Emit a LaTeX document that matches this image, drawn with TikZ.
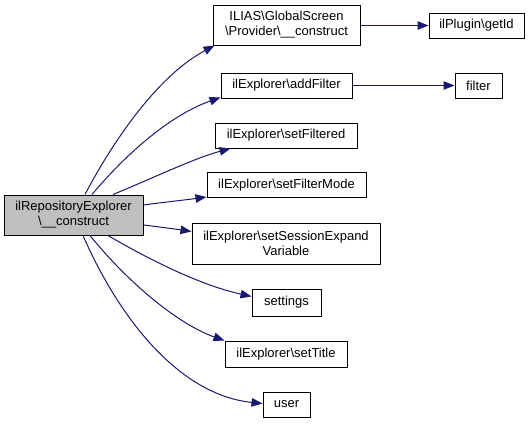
\documentclass[tikz,border=0pt]{standalone}
\usepackage{fontspec}
\setmainfont{Liberation Sans}
\usetikzlibrary{arrows.meta,calc}
\definecolor{edgeblue}{HTML}{191970}
\definecolor{mainfill}{HTML}{BFBFBF}
\tikzset{
  box/.style={draw=black, line width=1pt, fill=white, inner sep=0pt, align=center,
    font=\fontsize{13}{15}\selectfont, minimum height=25pt},
  twoline/.style={minimum height=40pt},
  edge/.style={draw=edgeblue, line width=1pt, -{Triangle[length=11pt,width=8.5pt]}},
}
\begin{document}
\begin{tikzpicture}[x=1pt,y=-1pt]
\useasboundingbox (0,0) rectangle (532,423);
\node[box,twoline,fill=mainfill,minimum width=139pt] (main) at (73.5,215) {ilRepositoryExplorer\\\textbackslash\_\_construct};
\node[box,twoline,minimum width=147pt] (ilias) at (286.5,25) {ILIAS\textbackslash GlobalScreen\\\textbackslash Provider\textbackslash\_\_construct};
\node[box,minimum width=95pt] (getid) at (476.5,25.5) {ilPlugin\textbackslash getId};
\node[box,minimum width=131pt] (addfilter) at (286.5,85.5) {ilExplorer\textbackslash addFilter};
\node[box,minimum width=47pt] (filter) at (478.5,85.5) {filter};
\node[box,minimum width=142pt] (setfiltered) at (286,135.5) {ilExplorer\textbackslash setFiltered};
\node[box,minimum width=159pt] (filtermode) at (286.5,185) {ilExplorer\textbackslash setFilterMode};
\node[box,twoline,minimum width=188pt,minimum height=41pt] (session) at (286,243.5) {ilExplorer\textbackslash setSessionExpand\\Variable};
\node[box,minimum width=69pt,minimum height=27pt] (settings) at (286.5,302.5) {settings};
\node[box,minimum width=122pt,minimum height=26pt] (settitle) at (286,354) {ilExplorer\textbackslash setTitle};
\node[box,minimum width=47pt] (user) at (286.5,404.5) {user};

\draw[edge] ($(main.north)+(11.5,0)$) .. controls (103,160) and (150,80) .. ($(ilias.south west)+(2,0)$);
\draw[edge] ($(main.north)+(18.5,0)$) .. controls (125,155) and (170,115) .. ($(addfilter.south west)+(0,-1)$);
\draw[edge] ($(main.north)+(39.5,0)$) .. controls (160,175) and (195,158) .. ($(setfiltered.south west)+(16,0)$);
\draw[edge] ($(main.east)+(0,-10)$) .. controls (165,202) and (185,200) .. ($(filtermode.south west)+(0,-1)$);
\draw[edge] ($(main.east)+(0,10)$) .. controls (160,227) and (175,229) .. ($(session.west)+(0,-12)$);
\draw[edge] ($(main.south)+(34.5,0)$) .. controls (150,260) and (200,285) .. ($(settings.west)+(0,-6)$);
\draw[edge] ($(main.south)+(16.5,0)$) .. controls (130,285) and (180,325) .. ($(settitle.north west)+(0,0)$);
\draw[edge] ($(main.south)+(9.5,0)$) .. controls (120,320) and (180,395) .. ($(user.west)+(0,-1)$);
\draw[edge] (ilias.east |- getid.west) -- (getid.west);
\draw[edge] (addfilter.east) -- (filter.west);
\end{tikzpicture}
\end{document}
